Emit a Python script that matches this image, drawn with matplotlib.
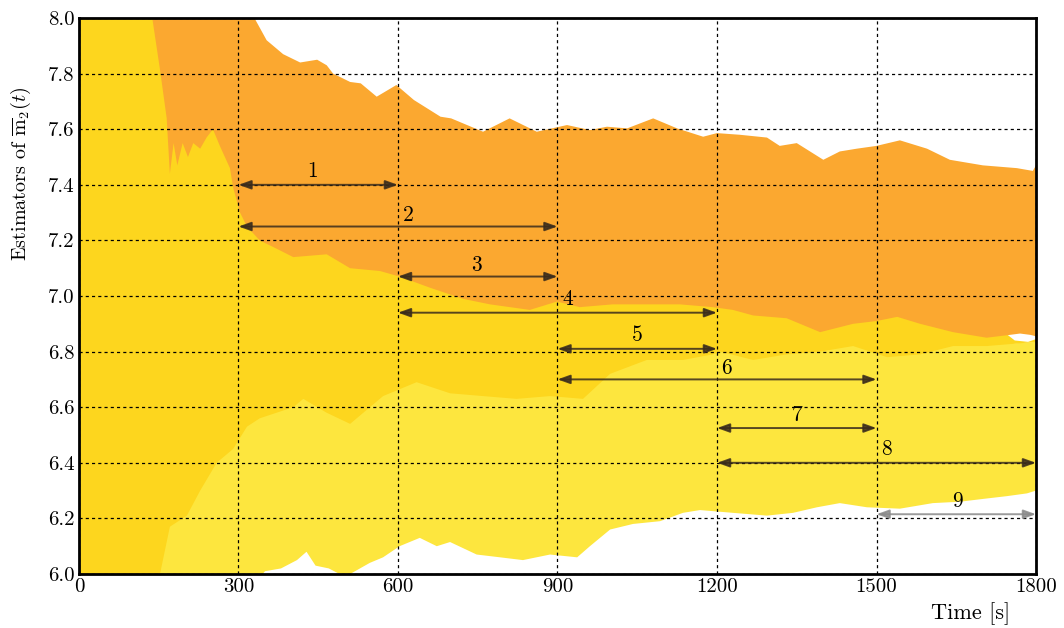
import numpy as np
import matplotlib
matplotlib.use("Agg")
import matplotlib.pyplot as plt

plt.rcParams.update({
    "font.family": "cmr10",
    "mathtext.fontset": "cm",
    "axes.formatter.use_mathtext": True,
    "font.size": 15,
})

# ---- band boundaries (time [s], estimator value) ----
# orange band: upper edge
orange_up_t = [134, 330, 353, 384, 416, 448, 466, 478, 510, 530, 560, 597, 630,
               680, 700, 760, 810, 861, 918, 961, 993, 1031, 1080, 1125, 1174,
               1200, 1243, 1294, 1318, 1350, 1400, 1431, 1463, 1500, 1544, 1595,
               1638, 1700, 1764, 1794, 1800]
orange_up_y = [8.05, 8.0, 7.92, 7.87, 7.84, 7.85, 7.83, 7.80, 7.77, 7.765, 7.717,
               7.759, 7.705, 7.645, 7.639, 7.591, 7.639, 7.591, 7.615, 7.597,
               7.609, 7.603, 7.639, 7.603, 7.573, 7.586, 7.58, 7.57, 7.54, 7.55,
               7.49, 7.52, 7.53, 7.54, 7.56, 7.53, 7.49, 7.47, 7.46, 7.45, 7.47]
# orange band: lower edge
orange_lo_t = [134, 152, 165, 171, 178, 185, 195, 205, 215, 228, 240, 252, 265,
               284, 290, 303, 316, 340, 372, 403, 466, 510, 566, 603, 660, 722,
               773, 848, 899, 942, 1004, 1068, 1130, 1192, 1230, 1268, 1331, 1394,
               1456, 1500, 1539, 1582, 1644, 1707, 1750, 1770, 1790, 1800]
orange_lo_y = [8.05, 7.82, 7.64, 7.44, 7.55, 7.47, 7.55, 7.50, 7.55, 7.53, 7.57,
               7.60, 7.54, 7.46, 7.39, 7.30, 7.25, 7.20, 7.17, 7.14, 7.15, 7.10,
               7.09, 7.07, 7.03, 6.99, 6.97, 6.95, 6.98, 6.96, 6.97, 6.97, 6.97,
               6.96, 6.95, 6.93, 6.92, 6.87, 6.90, 6.91, 6.925, 6.90, 6.87, 6.85,
               6.86, 6.865, 6.86, 6.855]
# gold band
gold_up_t = [0, 134, 175, 200, 252, 300, 400, 600, 900, 1200, 1500, 1700, 1740,
             1760, 1785, 1800]
gold_up_y = [8.05, 8.05, 8.05, 7.70, 7.65, 7.45, 7.25, 7.15, 7.05, 7.00, 6.97,
             6.90, 6.87, 6.84, 6.835, 6.845]
gold_lo_t = [0, 147, 171, 203, 228, 259, 290, 316, 340, 403, 422, 466, 510, 572,
             635, 698, 760, 823, 886, 948, 999, 1068, 1136, 1192, 1206, 1268,
             1331, 1394, 1456, 1520, 1582, 1644, 1707, 1770, 1800]
gold_lo_y = [5.95, 5.95, 6.17, 6.21, 6.30, 6.40, 6.45, 6.53, 6.56, 6.60, 6.63,
             6.58, 6.54, 6.64, 6.69, 6.65, 6.64, 6.63, 6.64, 6.63, 6.72, 6.77,
             6.77, 6.79, 6.80, 6.77, 6.79, 6.80, 6.82, 6.78, 6.79, 6.82, 6.82,
             6.83, 6.835]
# light yellow band
yellow_up_t = [147, 171, 300, 900, 1700, 1740, 1760, 1800]
yellow_up_y = [6.30, 6.35, 6.70, 6.80, 6.85, 6.84, 6.83, 6.835]
yellow_lo_t = [147, 322, 350, 380, 410, 428, 445, 470, 500, 510, 547, 572, 603,
               641, 673, 698, 748, 792, 835, 886, 937, 961, 999, 1042, 1093,
               1136, 1168, 1230, 1294, 1343, 1388, 1431, 1482, 1544, 1606, 1657,
               1700, 1745, 1783, 1800]
yellow_lo_y = [5.95, 5.95, 6.01, 6.02, 6.05, 6.08, 6.03, 6.02, 5.99, 6.00, 6.04,
               6.06, 6.10, 6.13, 6.10, 6.115, 6.07, 6.06, 6.05, 6.07, 6.06, 6.10,
               6.16, 6.18, 6.19, 6.22, 6.23, 6.22, 6.21, 6.22, 6.24, 6.255, 6.24,
               6.235, 6.255, 6.26, 6.27, 6.28, 6.29, 6.30]

# ---- window arrows ----
arrow_start = [300, 300, 600, 600, 900, 900, 1200, 1200, 1500]
arrow_end = [600, 900, 900, 1200, 1200, 1500, 1500, 1800, 1800]
arrow_y = [7.40, 7.25, 7.07, 6.94, 6.81, 6.70, 6.525, 6.40, 6.215]
label_x = [440, 619, 747, 920, 1051, 1217, 1350, 1518, 1653]
label_y = [7.45, 7.29, 7.11, 6.99, 6.86, 6.74, 6.57, 6.45, 6.26]
labels = ["1", "2", "3", "4", "5", "6", "7", "8", "9"]

x_ticks = [0, 300, 600, 900, 1200, 1500, 1800]
y_ticks = [6.0, 6.2, 6.4, 6.6, 6.8, 7.0, 7.2, 7.4, 7.6, 7.8, 8.0]


def band(ax, t_up, y_up, t_lo, y_lo, color):
    xs = np.r_[t_up, t_lo[::-1]]
    ys = np.r_[y_up, y_lo[::-1]]
    ax.fill(xs, ys, color=color, lw=0, zorder=1)


fig = plt.figure(figsize=(10.64, 6.28), dpi=100)
ax = fig.add_axes([0.0742, 0.086, 0.8995, 0.8853])

band(ax, yellow_up_t, yellow_up_y, yellow_lo_t, yellow_lo_y, "#fde63e")
band(ax, gold_up_t, gold_up_y, gold_lo_t, gold_lo_y, "#fdd61e")
band(ax, orange_up_t, orange_up_y, orange_lo_t, orange_lo_y, "#fba830")

for i in range(len(labels)):
    col = "#8a8a8a" if i == 8 else "#3a2c1c"
    ax.annotate("", xy=(arrow_end[i], arrow_y[i]), xytext=(arrow_start[i], arrow_y[i]),
                arrowprops=dict(arrowstyle="<|-|>,head_length=0.5,head_width=0.18",
                                color=col, lw=1.4, alpha=0.85,
                                shrinkA=0, shrinkB=0), zorder=4)
    ax.text(label_x[i], label_y[i], labels[i], ha="center", va="center",
            fontsize=15.5, zorder=5)

ax.set_xlim(0, 1800)
ax.set_ylim(6.0, 8.0)
ax.set_xticks(x_ticks)
ax.set_yticks(y_ticks)
ax.set_xticklabels([str(v) for v in x_ticks])
ax.set_yticklabels([f"{v:.1f}" for v in y_ticks])
ax.tick_params(length=0, pad=3, labelsize=15)
ax.grid(True, color="black", linestyle=(0, (2.5, 2.5)), lw=0.9, zorder=3)
ax.set_axisbelow(False)
for s in ax.spines.values():
    s.set_linewidth(2.0)
    s.set_zorder(6)

ax.set_xlabel("Time [s]", loc="right", fontsize=16)
ax.xaxis.set_label_coords(0.973, -0.05)
ax.set_ylabel(r"Estimators of $\overline{\mathrm{m}}_2(t)$", fontsize=14.5)
ax.yaxis.set_label_coords(-0.048, 0.72)

fig.savefig("out.png", dpi=100)
